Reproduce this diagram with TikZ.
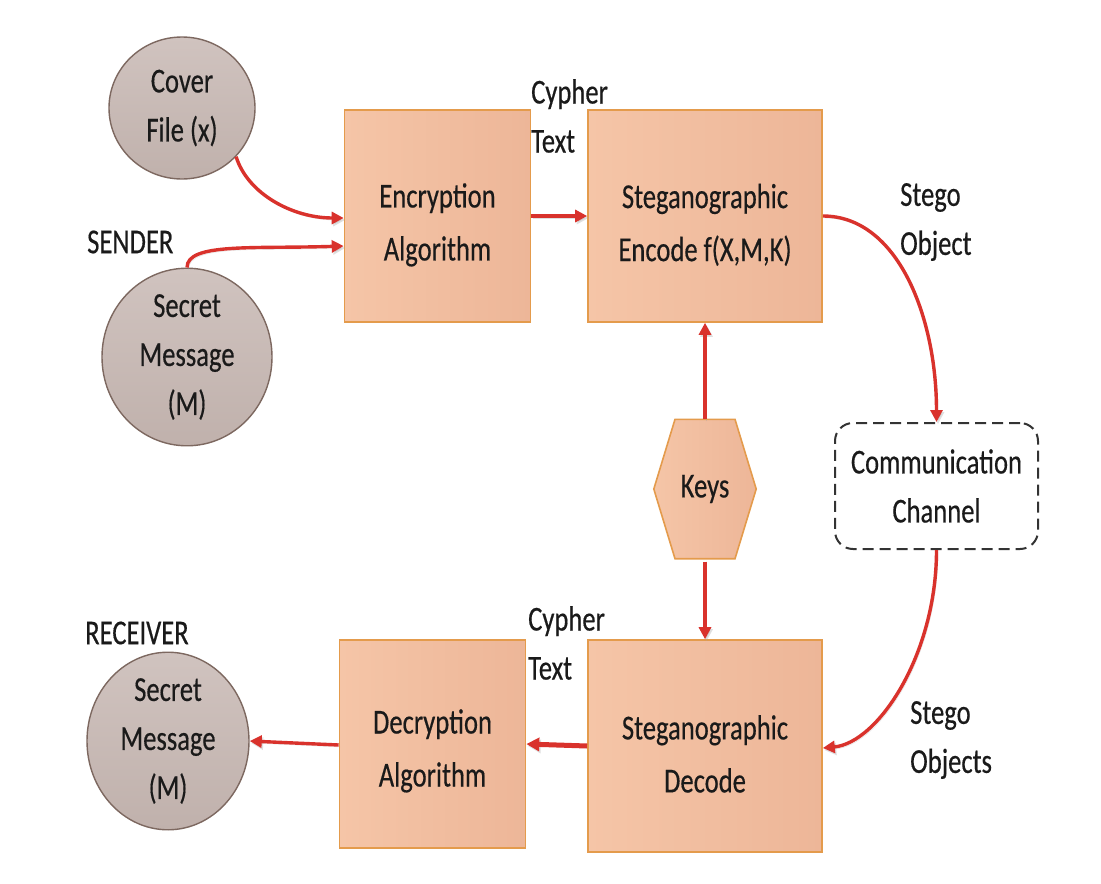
\documentclass[tikz,border=0pt]{standalone}
\usepackage{fontspec}
\setmainfont{Carlito}[FakeStretch=0.76,FakeBold=0.4]
\usetikzlibrary{arrows.meta,shapes.geometric}
\definecolor{boxA}{HTML}{F5C5A7}
\definecolor{boxB}{HTML}{EDB698}
\definecolor{boxborder}{HTML}{E49B4C}
\definecolor{circA}{HTML}{D0C3BF}
\definecolor{circB}{HTML}{C0B1AC}
\definecolor{circborder}{HTML}{7D6860}
\definecolor{arrred}{HTML}{D9322C}
\definecolor{txt}{HTML}{1A1A1A}
\newcommand\tallstrut[1]{\rule{0pt}{#1}}
\begin{document}
\begin{tikzpicture}[x=1pt,y=-1pt,
  every node/.style={text=txt, font=\fontsize{35}{49}\selectfont},
  procbox/.style={draw=boxborder, line width=1.6pt, left color=boxA, right color=boxB,
     minimum width=#1, minimum height=212pt, inner sep=0pt, align=center,
     font=\fontsize{35}{53}\selectfont},
  ovalnode/.style={ellipse, draw=circborder, line width=1.4pt, top color=circA, bottom color=circB,
     inner sep=0pt, align=center},
  lbl/.style={anchor=west, align=left, inner sep=0pt},
  shadowed/.style={preaction={draw=black!35, opacity=0.35, transform canvas={xshift=1.5pt,yshift=-2pt}}},
  arr/.style={draw=arrred, line width=3.4pt, -{Triangle[length=12pt,width=12pt]}, shadowed},
  thickarr/.style={draw=arrred, line width=5pt, -{Triangle[length=13pt,width=13pt]}, shadowed},
  chan/.style={draw=black!80, line width=2pt, dash pattern=on 11pt off 6pt, rounded corners=18pt,
     minimum width=203pt, minimum height=126pt, inner sep=0pt, align=center}
]
\useasboundingbox (0,0) rectangle (1101,884);
\fill[white] (0,0) rectangle (1101,884);

% sender side
\node[ovalnode, minimum width=146pt, minimum height=142pt] (cover) at (182,108) {Cover\\File (x)};
\node[ovalnode, minimum width=170pt, minimum height=160pt] (secret) at (187,357) {Secret\\Message\\(M)};
\node[lbl] (sender) at (87,242) {SENDER};

\node[procbox=186pt] (enc) at (437.5,216) {\tallstrut{42pt}Encryption\\Algorithm};
\node[procbox=234pt] (encode) at (705,216) {\tallstrut{42pt}Steganographic\\Encode f(X,M,K)};

\node[lbl] (ct1) at (531,116) {Cypher\\Text};
\node[lbl] (so1) at (900,222) {Stego\\Object};

% keys hexagon
\node[minimum width=102pt, minimum height=139pt, inner sep=0pt] (keys) at (705,489) {};
\fill[left color=boxA, right color=boxB] ([xshift=-30pt]keys.north) -- ([xshift=30pt]keys.north) -- (keys.east)
   -- ([xshift=30pt]keys.south) -- ([xshift=-30pt]keys.south) -- (keys.west) -- cycle;
\draw[boxborder, line width=1.6pt, line join=miter] ([xshift=-30pt]keys.north) -- ([xshift=30pt]keys.north) -- (keys.east)
   -- ([xshift=30pt]keys.south) -- ([xshift=-30pt]keys.south) -- (keys.west) -- cycle;
\node (keystext) at (keys.center) {Keys};

\node[chan] (chan) at (936.5,486) {Communication\\Channel};

% receiver side
\node[procbox=234pt] (decode) at (705,746) {\tallstrut{40pt}Steganographic\\Decode};
\node[procbox=186pt, minimum height=208pt] (dec) at (432.5,744) {\tallstrut{38pt}Decryption\\Algorithm};
\node[ovalnode, minimum width=162pt, minimum height=162pt] (rsecret) at (168,741) {Secret\\Message\\(M)};
\node[lbl] (receiver) at (85,633) {RECEIVER};
\node[lbl] (ct2) at (528,643) {Cypher\\Text};
\node[lbl] (so2) at (910,740) {Stego\\Objects};

% connectors
\draw[arr] (cover.-42) .. controls +(12,38) and +(-50,0) .. ([yshift=-2pt]enc.west);
\draw[arr] (secret.north) .. controls +(0,-25) and +(-90,3) .. ([yshift=-30pt]enc.west);
\draw[arr] (enc.east) -- (encode.west);
\draw[arr] (encode.east) .. controls +(75,0) and +(0,-105) .. (chan.north);
\draw[arr] (keys.north) -- (encode.south);
\draw[arr] ([yshift=-3pt]keys.south) -- (decode.north);
\draw[arr] (chan.south) .. controls +(0,105) and +(55,-5) .. ([yshift=-2pt]decode.east);
\draw[thickarr] (decode.west) -- (dec.east);
\draw[arr] ([yshift=-1pt]dec.west) -- (rsecret.east);
\end{tikzpicture}
\end{document}
